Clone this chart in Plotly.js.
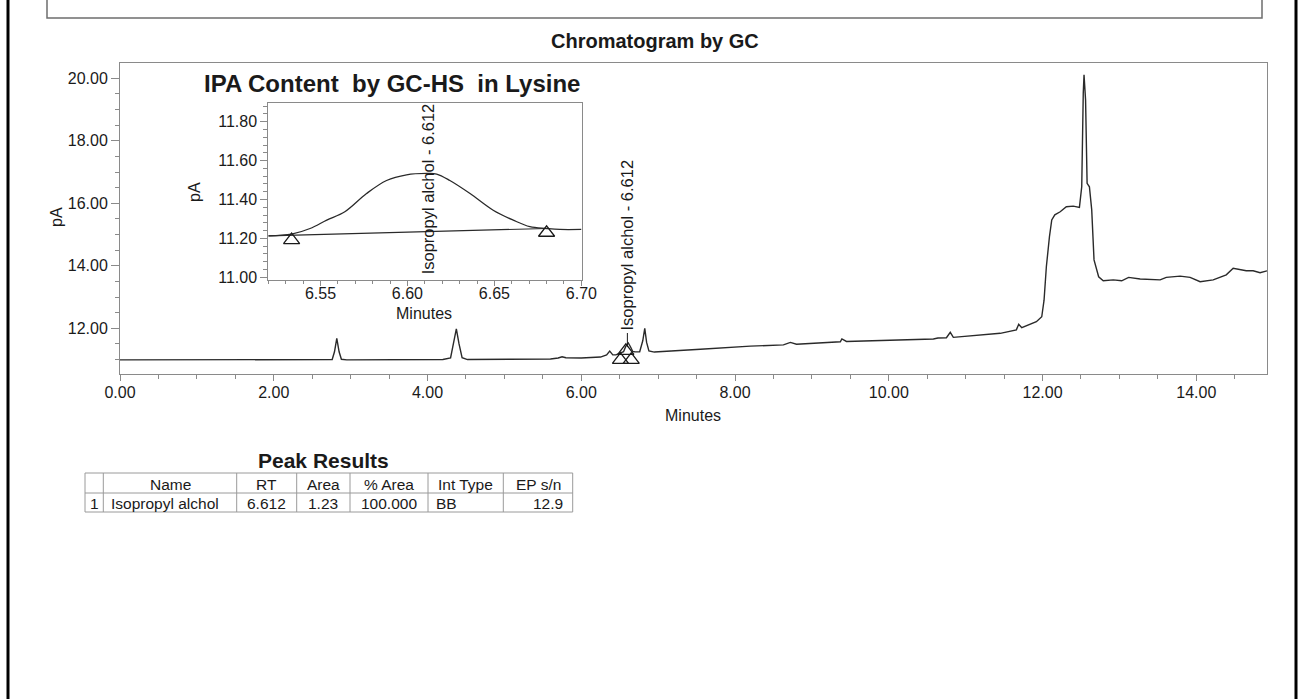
<!DOCTYPE html>
<html>
<head>
<meta charset="utf-8">
<script src="https://cdn.plot.ly/plotly-3.0.1.min.js"></script>
<style>
  html, body { margin: 0; padding: 0; background: #fff; }
  #chart { width: 1303px; height: 699px; }
</style>
</head>
<body>
<div id="chart"></div>
<script>
// ---------- DATA ----------
// Main chromatogram (minutes, pA)
const mainTime = [0.00, 1.00, 2.00, 2.70, 2.76, 2.79, 2.82, 2.85, 2.88, 2.95, 3.50, 4.20, 4.30, 4.34, 4.375, 4.41, 4.45, 4.52, 5.00, 5.60, 5.70, 5.75, 5.80, 6.00, 6.25, 6.33, 6.37, 6.41, 6.45, 6.52, 6.55, 6.58, 6.612, 6.64, 6.67, 6.70, 6.76, 6.80, 6.826, 6.85, 6.88, 6.95, 7.10, 7.55, 8.20, 8.63, 8.72, 8.80, 9.37, 9.39, 9.45, 10.58, 10.64, 10.75, 10.80, 10.84, 11.45, 11.66, 11.69, 11.73, 11.92, 11.99, 12.02, 12.05, 12.09, 12.12, 12.16, 12.23, 12.31, 12.40, 12.48, 12.51, 12.53, 12.54, 12.56, 12.58, 12.61, 12.64, 12.67, 12.73, 12.79, 12.92, 13.03, 13.12, 13.27, 13.53, 13.61, 13.79, 13.92, 14.05, 14.22, 14.39, 14.48, 14.55, 14.65, 14.74, 14.83, 14.92];
const mainSignal = [10.99, 10.99, 10.99, 10.99, 11.00, 11.25, 11.68, 11.25, 11.01, 10.99, 10.99, 11.00, 11.05, 11.50, 11.98, 11.50, 11.06, 11.00, 11.00, 11.02, 11.05, 11.09, 11.06, 11.05, 11.08, 11.15, 11.27, 11.15, 11.15, 11.21, 11.25, 11.43, 11.53, 11.41, 11.26, 11.245, 11.25, 11.60, 12.00, 11.55, 11.28, 11.24, 11.26, 11.33, 11.43, 11.47, 11.55, 11.49, 11.57, 11.66, 11.58, 11.66, 11.69, 11.70, 11.87, 11.71, 11.84, 11.95, 12.13, 12.02, 12.21, 12.37, 12.90, 13.97, 14.93, 15.47, 15.63, 15.73, 15.89, 15.91, 15.87, 16.53, 19.52, 20.11, 19.31, 16.64, 16.53, 15.79, 14.19, 13.65, 13.52, 13.55, 13.52, 13.63, 13.58, 13.55, 13.63, 13.67, 13.63, 13.49, 13.55, 13.71, 13.92, 13.89, 13.84, 13.84, 13.78, 13.84];

// Peak markers on the main chromatogram
const mainMarkTime = [6.51, 6.65, 6.58];
const mainMarkSignal = [10.99, 10.99, 11.28];

// Inset: IPA peak zoom
const insetTime = [6.520, 6.5334, 6.544, 6.5536, 6.564, 6.5765, 6.588, 6.5995, 6.611, 6.6168, 6.6244, 6.636, 6.6493, 6.6608, 6.6704, 6.680, 6.6876, 6.700];
const insetSignal = [11.213, 11.222, 11.251, 11.294, 11.337, 11.431, 11.498, 11.527, 11.534, 11.531, 11.498, 11.431, 11.345, 11.294, 11.260, 11.251, 11.246, 11.246];
const insetBaseTime = [6.520, 6.680];
const insetBaseSignal = [11.213, 11.251];
const insetMarkTime = [6.5334, 6.680];
const insetMarkSignal = [11.191, 11.229];

const peakName = "Isopropyl alchol";
const peakRT = 6.612;
const peakLabel = peakName + " - " + peakRT.toFixed(3);

// Table
const tableHeader = ["", "Name", "RT", "Area", "% Area", "Int Type", "EP s/n"];
const tableRow = ["1", "Isopropyl alchol", "6.612", "1.23", "100.000", "BB", "12.9"];

// Titles
const pageTitle = "Chromatogram by GC";
const insetTitle = "IPA Content\u00a0\u00a0by GC-HS\u00a0\u00a0in Lysine";
const tableTitle = "Peak Results";

// ---------- LAYOUT HELPERS ----------
const W = 1303, H = 699;
const px = x => x / W;
const py = y => 1 - y / H;
const FONT = "Liberation Sans, Arial, Helvetica, sans-serif";
const INK = "#1a1a1a";
const AXC = "#8a8a8a";

const traces = [
  { x: mainTime, y: mainSignal, type: "scatter", mode: "lines", xaxis: "x", yaxis: "y",
    line: { color: "#2a2a2a", width: 1.4 }, hoverinfo: "skip" },
  { x: mainMarkTime, y: mainMarkSignal, type: "scatter", mode: "markers", xaxis: "x", yaxis: "y",
    marker: { symbol: "triangle-up-open", size: 14, color: INK, line: { width: 1.3, color: INK } }, hoverinfo: "skip" },
  { x: insetTime, y: insetSignal, type: "scatter", mode: "lines", xaxis: "x2", yaxis: "y2",
    line: { color: "#2a2a2a", width: 1.3, shape: "spline" }, hoverinfo: "skip" },
  { x: insetBaseTime, y: insetBaseSignal, type: "scatter", mode: "lines", xaxis: "x2", yaxis: "y2",
    line: { color: "#2a2a2a", width: 1.2 }, hoverinfo: "skip" },
  { x: insetMarkTime, y: insetMarkSignal, type: "scatter", mode: "markers", xaxis: "x2", yaxis: "y2",
    marker: { symbol: "triangle-up-open", size: 14, color: INK, line: { width: 1.3, color: INK } }, hoverinfo: "skip" }
];

const axisCommon = {
  showline: true, linecolor: AXC, linewidth: 1, mirror: true,
  showgrid: false, zeroline: false, ticks: "outside", tickcolor: AXC,
  tickfont: { family: FONT, size: 16, color: INK }, fixedrange: true
};

const layout = {
  width: W, height: H,
  margin: { l: 0, r: 0, t: 0, b: 0 },
  paper_bgcolor: "#fff", plot_bgcolor: "rgba(0,0,0,0)",
  showlegend: false, hovermode: false,
  xaxis: Object.assign({}, axisCommon, {
    domain: [px(120), px(1267)], range: [0, 14.92], anchor: "y",
    dtick: 2, tick0: 0, tickformat: ".2f", ticklen: 6, ticklabelstandoff: -2,
    minor: { dtick: 0.5, ticks: "outside", ticklen: 4, tickcolor: AXC, showgrid: false }
  }),
  yaxis: Object.assign({}, axisCommon, {
    domain: [py(374), py(63)], range: [10.538, 20.49], anchor: "x",
    dtick: 2, tick0: 0, tickformat: ".2f", ticklen: 8,
    minor: { dtick: 0.5, ticks: "outside", ticklen: 4, tickcolor: AXC, showgrid: false }
  }),
  xaxis2: Object.assign({}, axisCommon, {
    domain: [px(268.3), px(581.7)], range: [6.52, 6.7002], anchor: "y2",
    tickvals: [6.55, 6.60, 6.65, 6.70], tickformat: ".2f", ticklen: 5, ticklabelstandoff: -6,
    minor: { dtick: 0.01, tick0: 6.5, ticks: "outside", ticklen: 3, tickcolor: AXC, showgrid: false }
  }),
  yaxis2: Object.assign({}, axisCommon, {
    domain: [py(280), py(103.3)], range: [10.986, 11.895], anchor: "x2",
    tickvals: [11.0, 11.2, 11.4, 11.6, 11.8], tickformat: ".2f", ticklen: 7,
    minor: { dtick: 0.04, tick0: 11.0, ticks: "outside", ticklen: 4, tickcolor: AXC, showgrid: false }
  }),
  shapes: [],
  annotations: []
};

// Page frame
layout.shapes.push(
  { type: "line", xref: "paper", yref: "paper", x0: px(8), x1: px(8), y0: 0, y1: 1, line: { color: "#000", width: 3 } },
  { type: "line", xref: "paper", yref: "paper", x0: px(1296), x1: px(1296), y0: 0, y1: 1, line: { color: "#000", width: 3 } },
  { type: "path", xref: "paper", yref: "paper",
    path: `M ${px(47)} 1.01 L ${px(47)} ${py(18)} L ${px(1262)} ${py(18)} L ${px(1262)} 1.01`,
    line: { color: "#6e6e6e", width: 1.5 } }
);

// Peak label connector on main chart
layout.shapes.push({ type: "line", xref: "x", yref: "y", x0: 6.60, x1: 6.60, y0: 11.40, y1: 11.85,
  line: { color: INK, width: 1 } });

// Text annotations
const ann = layout.annotations;
ann.push({ text: "<b>" + pageTitle + "</b>", xref: "paper", yref: "paper", x: px(655), y: py(41),
  xanchor: "center", yanchor: "middle", showarrow: false, font: { family: FONT, size: 20, color: INK } });
ann.push({ text: "<b>" + insetTitle + "</b>", xref: "paper", yref: "paper", x: px(392), y: py(83),
  xanchor: "center", yanchor: "middle", showarrow: false, font: { family: FONT, size: 24, color: INK } });
ann.push({ text: "Minutes", xref: "paper", yref: "paper", x: px(693), y: py(415),
  xanchor: "center", yanchor: "middle", showarrow: false, font: { family: FONT, size: 16, color: INK } });
ann.push({ text: "pA", xref: "paper", yref: "paper", x: px(56), y: py(217), textangle: -90,
  xanchor: "center", yanchor: "middle", showarrow: false, font: { family: FONT, size: 16, color: INK } });
ann.push({ text: "Minutes", xref: "paper", yref: "paper", x: px(424), y: py(313),
  xanchor: "center", yanchor: "middle", showarrow: false, font: { family: FONT, size: 16, color: INK } });
ann.push({ text: "pA", xref: "paper", yref: "paper", x: px(194), y: py(192), textangle: -90,
  xanchor: "center", yanchor: "middle", showarrow: false, font: { family: FONT, size: 16, color: INK } });
ann.push({ text: peakLabel, xref: "x2", yref: "y2", x: peakRT, y: 11.454, textangle: -90,
  xanchor: "center", yanchor: "middle", showarrow: false, font: { family: FONT, size: 16.5, color: INK } });
ann.push({ text: peakLabel, xref: "x", yref: "y", x: 6.59, y: 14.67, textangle: -90,
  xanchor: "center", yanchor: "middle", showarrow: false, font: { family: FONT, size: 16.5, color: INK } });

// Table
const colX = [85, 103.3, 236.7, 296.7, 350, 428, 503.3, 572.7];
const rowY = [473, 493, 512];
const TL = "#9a9a9a";
layout.shapes.push({ type: "rect", xref: "paper", yref: "paper",
  x0: px(colX[0]), x1: px(colX[colX.length - 1]), y0: py(rowY[2]), y1: py(rowY[0]),
  line: { color: TL, width: 1 } });
layout.shapes.push({ type: "line", xref: "paper", yref: "paper",
  x0: px(colX[0]), x1: px(colX[colX.length - 1]), y0: py(rowY[1]), y1: py(rowY[1]),
  line: { color: TL, width: 1 } });
for (let i = 1; i < colX.length - 1; i++) {
  layout.shapes.push({ type: "line", xref: "paper", yref: "paper",
    x0: px(colX[i]), x1: px(colX[i]), y0: py(rowY[2]), y1: py(rowY[0]),
    line: { color: TL, width: 1 } });
}
ann.push({ text: "<b>" + tableTitle + "</b>", xref: "paper", yref: "paper", x: px(323), y: py(460),
  xanchor: "center", yanchor: "middle", showarrow: false, font: { family: FONT, size: 21, color: INK } });
const rowAlign = ["center", "left", "center", "center", "center", "left", "right"];
for (let i = 0; i < tableHeader.length; i++) {
  const xc = (colX[i] + colX[i + 1]) / 2;
  if (tableHeader[i]) {
    ann.push({ text: tableHeader[i], xref: "paper", yref: "paper", x: px(xc), y: py((rowY[0] + rowY[1]) / 2 + 1),
      xanchor: "center", yanchor: "middle", showarrow: false, font: { family: FONT, size: 15.5, color: INK } });
  }
  let xp = xc, xa = "center";
  if (rowAlign[i] === "left") { xp = colX[i] + 6; xa = "left"; }
  if (rowAlign[i] === "right") { xp = colX[i + 1] - 8; xa = "right"; }
  ann.push({ text: tableRow[i], xref: "paper", yref: "paper", x: px(xp), y: py((rowY[1] + rowY[2]) / 2 + 1),
    xanchor: xa, yanchor: "middle", showarrow: false, font: { family: FONT, size: 15.5, color: INK } });
}

Plotly.newPlot("chart", traces, layout, { staticPlot: true, displayModeBar: false });
</script>
</body>
</html>
